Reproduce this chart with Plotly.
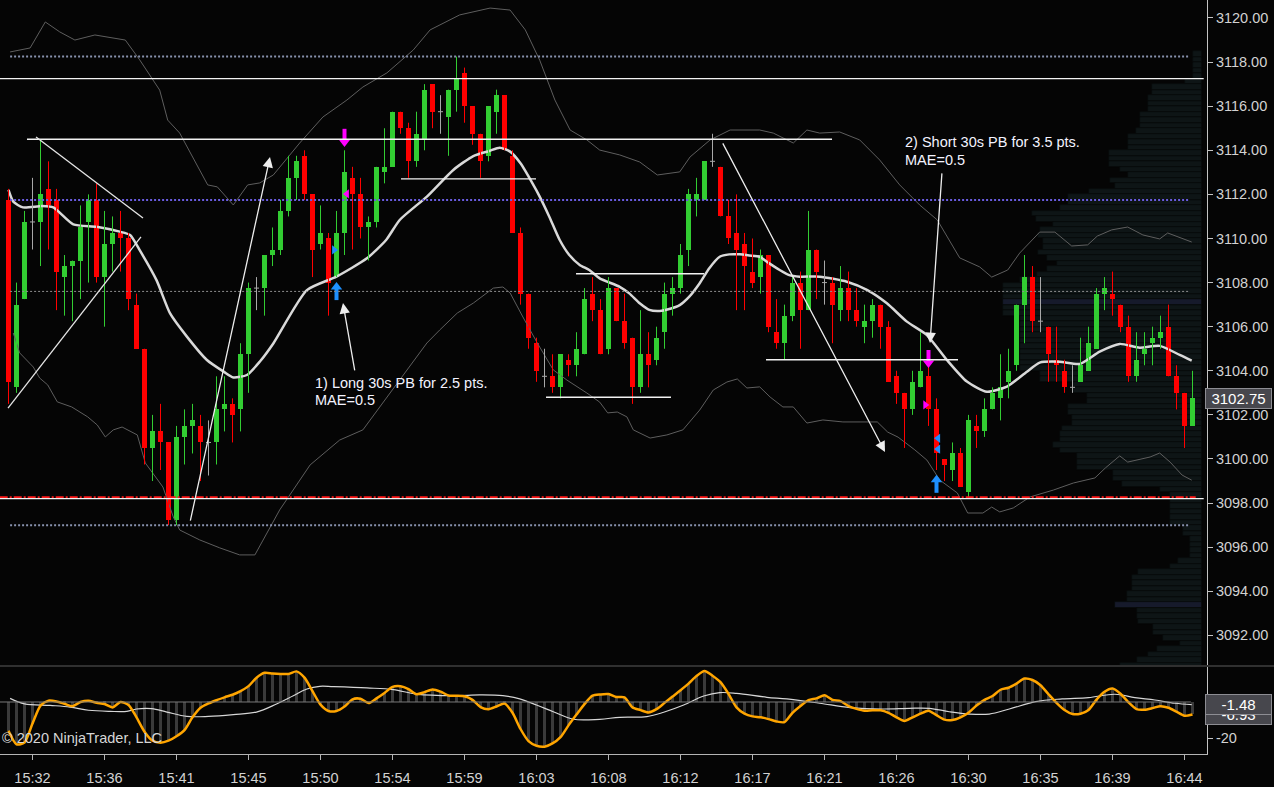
import plotly.graph_objects as go

BG = "#050505"
FONT = "Liberation Sans, Arial, sans-serif"
GREEN = "#32cd32"
RED = "#ff0000"
DOJI = "#a8a8a8"

# ---- time axis (30 second bars, one label every 9 bars) ----
time_labels = ["15:32", "15:36", "15:41", "15:45", "15:50", "15:54", "15:59", "16:03", "16:08",
               "16:12", "16:17", "16:21", "16:26", "16:30", "16:35", "16:39", "16:44"]
tick_bars = list(range(3, 148, 9))

# ---- OHLC ----
opens = [3111.75, 3103.25, 3107.25, 3110.75, 3110.75, 3112.25, 3111.75, 3108.25, 3108.75, 3109,
         3110.75, 3111.75, 3108.25, 3109.75, 3110.25, 3110, 3107, 3105, 3100.5, 3101.25,
         3100.75, 3097.25, 3101, 3101.5, 3101.5, 3100.75, 3100.75, 3102.25, 3102.5, 3102.25,
         3104.75, 3107.75, 3107.75, 3109.25, 3109.5, 3111.25, 3112.75, 3113.75, 3112, 3109.75,
         3110, 3108.25, 3110.25, 3112.75, 3112, 3110.5, 3110.75, 3113, 3113.25, 3115.75,
         3115, 3113.5, 3114.5, 3117, 3115.75, 3115.5, 3116.75, 3117.5, 3116, 3114.75,
         3113.75, 3115.75, 3116.5, 3113.75, 3110.25, 3107.5, 3105.25, 3103.75, 3103.75, 3103.25,
         3104.5, 3104.25, 3104.75, 3107.5, 3106.75, 3105, 3107.75, 3106.25, 3105.5, 3103.25,
         3104.75, 3104.5, 3105.75, 3107.5, 3107.75, 3109.5, 3111.75, 3111.75, 3113.5, 3113.25,
         3111, 3110.25, 3109.75, 3108.5, 3108.25, 3109.25, 3105.75, 3105.25, 3106.5, 3108,
         3106.75, 3109.5, 3108, 3108, 3106.75, 3107.75, 3106.75, 3106, 3106.25, 3107,
         3106, 3103.75, 3103, 3102.25, 3103.25, 3103.75, 3102.25, 3100, 3099.5, 3100.25,
         3098.5, 3101.5, 3101.25, 3102.25, 3102.75, 3103.5, 3104.25, 3107, 3108.25, 3106.25,
         3106, 3104.5, 3104, 3103.25, 3103.5, 3104, 3105, 3107.5, 3107.5, 3107,
         3106, 3103.75, 3104.75, 3105.25, 3105.5, 3106, 3103.75, 3103, 3101.5]
highs = [3112.25, 3108, 3111.25, 3112.75, 3114.5, 3113.5, 3112.25, 3109.25, 3109, 3111.5,
         3112, 3112.5, 3111.25, 3111, 3111.25, 3110.25, 3107.5, 3105, 3102, 3102.5,
         3100.75, 3101.5, 3102.25, 3102.5, 3102, 3101.75, 3103.75, 3103.75, 3102.75, 3105.25,
         3108, 3108.25, 3109.25, 3110.5, 3111.75, 3113.75, 3113.75, 3114, 3112, 3111.5,
         3110.25, 3111.25, 3114, 3113.25, 3112.75, 3111, 3113.25, 3115, 3115.75, 3115.75,
         3115.25, 3115.75, 3117, 3117, 3116.5, 3116.75, 3118.25, 3117.75, 3116, 3114.75,
         3116, 3116.75, 3116.5, 3114, 3110.5, 3107.5, 3105.5, 3105, 3104.75, 3104.75,
         3104.75, 3105.75, 3107.75, 3108.25, 3107.25, 3108.25, 3107.75, 3107.5, 3105.5, 3106.75,
         3105.75, 3106, 3108, 3108.25, 3109.75, 3112.25, 3112.75, 3113.5, 3114.75, 3113.25,
         3111.75, 3112, 3110.25, 3110, 3109.5, 3109.25, 3107.25, 3107, 3108.25, 3108.5,
         3111.25, 3109.5, 3109, 3108.25, 3108.75, 3108.5, 3107.75, 3107, 3107.25, 3107,
         3106.25, 3104, 3103, 3104, 3105.75, 3104.25, 3102.75, 3100, 3100.75, 3100.5,
         3102, 3102, 3102.75, 3103.25, 3104.75, 3105, 3107, 3109.25, 3108.75, 3108.25,
         3106, 3106, 3104.5, 3104.25, 3105.5, 3106, 3107.75, 3108.25, 3108.5, 3107,
         3106.5, 3105.75, 3105.75, 3106, 3106.5, 3107, 3104.25, 3103, 3104]
lows = [3102.5, 3103, 3107.25, 3109.5, 3108.75, 3109.5, 3106.75, 3106.5, 3106.25, 3107.25,
        3108, 3108, 3106, 3108.5, 3108.5, 3106.75, 3105, 3099.75, 3099, 3099.5,
        3097, 3097, 3099.75, 3100.25, 3099, 3099.25, 3099.75, 3101.25, 3100.75, 3101.25,
        3103, 3106.75, 3106.5, 3108.75, 3109.25, 3111, 3111.75, 3111.75, 3108.25, 3109.5,
        3106.5, 3108.25, 3109.25, 3109.5, 3110, 3109, 3110.5, 3112.5, 3113.25, 3114.75,
        3112.75, 3113.25, 3114, 3115, 3114.75, 3113.75, 3115.75, 3115.25, 3114.25, 3112.75,
        3113.5, 3114.75, 3114, 3110.25, 3107, 3105, 3103.5, 3103.25, 3103, 3102.75,
        3103.75, 3103.75, 3104.75, 3106.25, 3104.75, 3104.75, 3106.25, 3105, 3102.5, 3103,
        3103.25, 3104.25, 3105, 3106.5, 3107.5, 3108.75, 3111, 3111.75, 3113.25, 3111,
        3109.75, 3106.75, 3106.75, 3107.75, 3107.5, 3105.75, 3105, 3104.5, 3106.25, 3105,
        3106.75, 3107.25, 3107, 3105.25, 3106.25, 3106.25, 3106, 3105.25, 3105.5, 3105,
        3103.5, 3102.5, 3100.5, 3102, 3103.25, 3101.5, 3099.5, 3099, 3099, 3098.75,
        3098.25, 3100.5, 3101, 3102.25, 3101.75, 3102.75, 3104, 3105.25, 3105.75, 3105.75,
        3103.5, 3103.5, 3103, 3103, 3103.5, 3104, 3105, 3106.75, 3106.5, 3105.75,
        3103.5, 3103.5, 3104.25, 3104.25, 3105, 3103.75, 3102.25, 3100.5, 3101.5]
closes = [3103.5, 3107, 3110.75, 3110.75, 3112, 3111.5, 3108.5, 3108.75, 3109, 3110.5,
          3111.75, 3108.25, 3109.75, 3110.25, 3110, 3107.25, 3105, 3100.5, 3101.25, 3100.75,
          3097.25, 3101, 3101.5, 3101.75, 3100.75, 3100.75, 3102.25, 3102.5, 3102, 3104.75,
          3107.75, 3107.75, 3109.25, 3109.5, 3111.25, 3112.75, 3113.5, 3112, 3109.5, 3110.25,
          3108, 3110.25, 3113, 3112, 3110.5, 3110.75, 3113.25, 3113.25, 3115.75, 3115,
          3113.5, 3114.75, 3116.75, 3115.75, 3115.75, 3116.75, 3117.25, 3116, 3114.75, 3113.5,
          3116, 3116.5, 3114, 3110.25, 3107.5, 3105.5, 3104, 3103.75, 3103.25, 3104.75,
          3104.25, 3105, 3107.25, 3106.75, 3104.75, 3107.75, 3106.25, 3105.25, 3103.25, 3104.75,
          3104.25, 3105.5, 3107.5, 3107.75, 3109.25, 3112, 3112, 3113.5, 3113.5, 3111,
          3110, 3109.5, 3108.75, 3108, 3109.25, 3106, 3105.25, 3106.5, 3108, 3106.75,
          3109.5, 3108.5, 3108, 3107, 3107.75, 3106.75, 3106.25, 3106.25, 3107, 3106,
          3103.5, 3103, 3102.25, 3103.5, 3104, 3102.25, 3100.25, 3099.75, 3100.25, 3098.75,
          3101.75, 3101.25, 3102.25, 3103, 3103.25, 3104, 3107, 3108.25, 3106.25, 3106.25,
          3104.75, 3104.25, 3103.25, 3103.25, 3104.25, 3105.25, 3107.5, 3107.75, 3107.25, 3106,
          3103.75, 3104.5, 3105, 3105.5, 3105.75, 3103.75, 3103, 3101.5, 3102.75]

# ---- moving average and bands, (bar, price) ----
ma_pts = [(0, 3112.2), (0.6, 3111.67), (1.8, 3111.41), (4.2, 3111.47), (5.6, 3111.41), (8.1, 3110.64),
          (11, 3110.53), (13.9, 3110.31), (15.2, 3110.16), (16.4, 3109.47), (18.5, 3108.11), (20.2, 3106.6),
          (22.3, 3105.55), (24.8, 3104.49), (26.9, 3103.96), (28.1, 3103.7), (29.8, 3103.81), (31.4, 3104.41),
          (33.1, 3105.24), (37.3, 3107.66), (41, 3108.27), (44.8, 3109.1), (47.2, 3109.93), (48.9, 3110.84),
          (52.3, 3111.9), (55.6, 3113.11), (58.1, 3113.74), (60.1, 3113.97), (61.4, 3114.12), (62.7, 3113.94),
          (64.0, 3113.41), (65.5, 3112.5), (66.4, 3111.9), (67.6, 3110.99), (68.9, 3109.93), (70.1, 3109.25),
          (71.4, 3108.8), (72.6, 3108.57), (73.9, 3108.19), (76.4, 3107.81), (77.6, 3107.51), (78.9, 3107.06),
          (80.1, 3106.76), (81.4, 3106.71), (82.6, 3106.8), (83.9, 3106.98), (85.1, 3107.36), (86.4, 3107.97),
          (87.6, 3108.65), (88.9, 3109.17), (90.1, 3109.28), (91.4, 3109.28), (92.6, 3109.23), (93.9, 3109.17),
          (95.1, 3108.87), (96.4, 3108.57), (97.6, 3108.34), (98.9, 3108.27), (101.4, 3108.27), (104.8, 3108.04),
          (107.3, 3107.67), (109.8, 3107.06), (112.3, 3106.23), (114.8, 3105.62), (117.3, 3104.49),
          (119.8, 3103.51), (122.3, 3103.05), (124.8, 3103.28), (127.3, 3103.96), (128.9, 3104.37),
          (131.4, 3104.41), (133.9, 3104.31), (136.4, 3104.87), (138.9, 3105.22), (141.4, 3105.05),
          (143.9, 3105.13), (146.4, 3104.72), (147.9, 3104.46)]

upper_pts = [(0.2, 3118.46), (2.7, 3118.64), (4.6, 3119.82), (6.4, 3119.37), (8.3, 3119.0), (10.8, 3119.23),
             (14.6, 3119.0), (16.4, 3118.1), (18.9, 3116.73), (19.9, 3115.37), (21.4, 3114.78), (24.9, 3112.43),
             (26.1, 3112.34), (28.1, 3111.52), (29.9, 3112.43), (31.4, 3112.52), (33.1, 3112.88), (36.4, 3114.33),
             (39.3, 3115.51), (42.3, 3116.28), (44.3, 3116.87), (47.3, 3117.51), (50.6, 3118.55), (52.7, 3119.46),
             (56.4, 3120.14), (60.2, 3120.45), (62.7, 3120.36), (64.6, 3119.46), (66.4, 3118.09), (68.3, 3116.28),
             (70.2, 3114.92), (72.3, 3114.47), (73.9, 3114.01), (76.4, 3113.79), (78.9, 3113.47), (81.1, 3112.88),
             (83.9, 3113.02), (85.2, 3113.7), (87.7, 3114.47), (90.2, 3114.92), (93.9, 3114.92), (95.6, 3114.78),
             (98.1, 3114.33), (99.8, 3114.92), (101.4, 3114.78), (103.9, 3114.83), (106.4, 3114.47),
             (108.9, 3113.56), (111.4, 3112.43), (113.9, 3111.52), (116.1, 3110.84), (118.9, 3109.12),
             (121.4, 3108.71), (122.9, 3108.25), (124.9, 3108.57), (126.4, 3109.34), (128.9, 3110.29),
             (130.8, 3110.29), (132.9, 3109.66), (134.9, 3109.71), (136.1, 3110.11), (137.9, 3110.39),
             (139.9, 3110.52), (141.8, 3110.16), (143.9, 3109.98), (144.9, 3110.25), (147.9, 3109.84)]

lower_pts = [(0.6, 3105.71), (1.4, 3104.81), (3.1, 3104.17), (3.9, 3103.67), (4.9, 3103.36), (6.1, 3102.59),
             (7.9, 3102.36), (9.9, 3101.91), (11.1, 3101.54), (12.1, 3101.0), (13.1, 3101.32), (14.2, 3101.45),
             (16.1, 3101.09), (17.1, 3099.82), (19.3, 3098.73), (20.6, 3097.37), (21.4, 3096.78), (23.9, 3096.33),
             (26.4, 3095.97), (28.9, 3095.65), (30.8, 3095.65), (33.9, 3097.69), (37.7, 3099.73), (41.4, 3100.86),
             (44.3, 3101.32), (46.4, 3102.36), (49.8, 3104.04), (52.3, 3105.26), (53.9, 3105.85), (56.1, 3106.62),
             (58.1, 3107.07), (60.6, 3107.75), (61.8, 3107.8), (62.7, 3107.53), (64.3, 3106.44), (66.1, 3105.26),
             (68.1, 3104.04), (69.8, 3103.58), (72.3, 3102.99), (73.9, 3102.58), (74.9, 3102.09), (76.1, 3102.13),
             (77.3, 3101.91), (78.1, 3101.32), (80.2, 3100.95), (82.3, 3101.09), (84.3, 3101.32), (86.4, 3102.22),
             (88.1, 3103.13), (89.8, 3103.49), (91.1, 3103.63), (92.3, 3103.22), (93.9, 3103.27), (95.2, 3102.81),
             (96.8, 3102.36), (98.1, 3102.36), (99.8, 3101.63), (101.8, 3101.77), (104.3, 3101.68),
             (108.6, 3101.68), (109.9, 3101.22), (111.2, 3100.99), (113.3, 3100.41), (114.8, 3099.95),
             (116.4, 3099.05), (118.6, 3098.46), (119.9, 3097.55), (121.8, 3097.55), (122.9, 3097.82),
             (123.9, 3097.6), (125.6, 3097.78), (127.7, 3098.28), (130.6, 3098.59), (133.1, 3098.91),
             (135.8, 3099.14), (137.1, 3099.59), (138.9, 3100.14), (139.9, 3099.86), (142.7, 3100.09),
             (143.9, 3100.27), (145.2, 3099.86), (146.7, 3099.27), (147.9, 3099.04)]

# ---- oscillator: one value per bar (orange line and histogram), signal ----
osc = [-16, -23.5, -22.5, -12, -2, 0.7, 0.3, -1, -2.3, 0,
       0.7, -0.4, -1.1, -3, 0, -1.7, -8.5, -16.5, -21.5, -22.6,
       -21.5, -19, -15.6, -8.5, -3.2, -0.8, 1, 2.6, 4, 6,
       8.8, 13.5, 16.2, 15.8, 15.6, 15.6, 17, 13.5, 6, -1.5,
       -5, -5, -2.5, 1.5, 1.8, -0.6, 2, 5, 8.4, 8.8,
       7.2, 4.3, 5.5, 7, 5.8, 3.6, 3.5, 3.2, 1.2, -2.8,
       -4, -2.5, -0.8, -6, -15, -21.7, -24.3, -24.8, -23, -19.5,
       -13, -7, -1.2, 3.5, 4.2, 4.4, 2.8, 2.6, -3, -4.5,
       -5.8, -4, -0.5, 3, 6.5, 10.2, 14.4, 17.2, 14.6, 11,
       4.5, -3, -6.5, -8, -8.5, -9.5, -10.8, -11.2, -6, -2.2,
       1, 2, 3.8, 1.2, 0.5, -2.3, -3.8, -4.8, -4.6, -4.6,
       -6, -8.5, -10.5, -8.5, -6.5, -4.8, -7.3, -9.8, -10, -8.5,
       -6, -2, 1.2, 3.3, 6.8, 7.9, 10.2, 13, 12.2, 9.3,
       4.3, -0.5, -4.5, -6.7, -6.5, -4.4, 1.3, 5.7, 7.5, 4.6,
       -0.2, -4, -4.3, -3.4, -2.3, -3.2, -5.4, -7.6, -6.93]

signal_pts = [(0.2, 2), (2, -1), (5.2, -1.9), (7.7, -2.8), (10, -4.6), (12.7, -5.2), (14.8, -5.2), (16, -3.9),
              (17.9, -3.7), (19.8, -5.6), (22.3, -8), (25, -8), (28.1, -7), (31, -5.6), (33.5, -1.1), (35.6, 3.5),
              (37.3, 7.2), (38.9, 8.7), (40.6, 8.5), (44.8, 7.8), (48.1, 6.9), (51, 4.4), (55.6, 3.5), (58.9, 3.9),
              (61.8, 3.5), (63.9, 1.7), (66, -1.7), (68.1, -5.4), (70.6, -9.6), (73.9, -9.6), (76.4, -8.5),
              (79.8, -8.1), (81.9, -5.7), (84.4, -1.7), (86.9, 3.3), (88.9, 5.2), (91, 4.8), (94.8, 2.6),
              (97.3, 1.7), (101.4, -0.7), (105.2, -3.1), (109.3, -3.9), (112.6, -3.5), (115.1, -3.5),
              (117.6, -5.4), (120.1, -6.7), (122.6, -6.7), (125.1, -3.9), (128.4, 0.2), (131.7, 1.7),
              (135, 2.4), (138.3, 4.3), (140.8, 2.4), (143.3, 1.1), (145.8, -0.7), (147.9, -1.48)]

# ---- volume profile: (low, high, width) ----
profile_segments = [
    (3117.25, 3118.5, 9), (3117.0, 3117.25, 17), (3116.5, 3117.0, 50), (3115.75, 3116.5, 54),
    (3115.0, 3115.75, 62), (3114.75, 3115.0, 66), (3114.0, 3114.75, 74), (3113.25, 3114.0, 93),
    (3113.0, 3113.25, 82), (3112.75, 3113.0, 74), (3112.5, 3112.75, 92), (3112.25, 3112.5, 87),
    (3112.0, 3112.25, 113), (3111.5, 3112.0, 134), (3111.25, 3111.5, 142), (3111.0, 3111.25, 170),
    (3110.75, 3111.0, 166), (3110.5, 3110.75, 149), (3110.25, 3110.5, 162), (3110.0, 3110.25, 164),
    (3109.5, 3110.0, 159), (3109.25, 3109.5, 164), (3109.0, 3109.25, 155), (3108.75, 3109.0, 145),
    (3108.5, 3108.75, 155), (3108.25, 3108.5, 165), (3108.0, 3108.25, 182), (3106.5, 3108.0, 199),
    (3104.0, 3106.5, 182), (3103.5, 3104.0, 162), (3103.0, 3103.5, 129), (3102.5, 3103.0, 115),
    (3102.0, 3102.5, 134), (3101.5, 3102.0, 130), (3101.25, 3101.5, 140), (3100.75, 3101.25, 142),
    (3100.5, 3100.75, 149), (3100.25, 3100.5, 142), (3099.5, 3100.25, 125), (3099.0, 3099.5, 89),
    (3098.75, 3099.0, 80), (3098.5, 3098.75, 42), (3097.0, 3098.5, 32), (3096.5, 3097.0, 19),
    (3095.5, 3096.5, 12), (3095.25, 3095.5, 24), (3095.0, 3095.25, 32), (3094.75, 3095.0, 64),
    (3094.0, 3094.75, 70), (3093.5, 3094.0, 75), (3093.25, 3093.5, 87), (3092.75, 3093.25, 65),
    (3092.5, 3092.75, 64), (3092.0, 3092.5, 49), (3091.75, 3092.0, 39), (3091.5, 3091.75, 22),
    (3091.25, 3091.5, 45), (3091.0, 3091.25, 54), (3090.75, 3091.0, 65), (3090.5, 3090.75, 82)]
profile_marked = [3107.125, 3093.375]

# ---- drawing objects ----
full_lines = [3117.25, 3098.2]
red_level = 3098.27
dotted_levels = [(3118.25, "#8791ad", 2), (3111.75, "#6a5ce0", 2), (3107.6, "#8e8e8e", 1), (3097.0, "#8791ad", 2)]
short_lines = [(2.31, 102.94, 3114.5), (49.06, 65.94, 3112.7), (70.94, 86.94, 3108.4),
               (67.19, 82.81, 3102.8), (94.69, 118.69, 3104.5)]
trend_lines = [((3.44, 3114.6), (16.81, 3110.93)), ((-0.06, 3102.31), (16.56, 3110.07))]
arrow_lines = [((22.69, 3097.14), (32.69, 3113.70)), ((43.31, 3103.95), (41.81, 3107.07)),
               ((89.19, 3114.38), (109.56, 3100.32)), ((116.69, 3113.02), (115.19, 3105.26))]
notes = [(38.06, 3103.45, "1) Long 30s PB for 2.5 pts."), (38.06, 3102.67, "MAE=0.5"),
         (111.8, 3114.38, "2) Short 30s PB for 3.5 pts."), (111.8, 3113.58, "MAE=0.5")]

# ---- trade markers ----
short_arrow_bars = [42, 115]
short_arrow_prices = [3114.38, 3104.35]
long_arrow_bars = [41, 116]
long_arrow_prices = [3107.8, 3099.06]
marks_pink_left = ([42.3], [3112.02])
marks_pink_right = ([114.6], [3102.45])
marks_blue_right = ([40.7], [3109.48])
marks_blue_left = ([116.2, 116.2], [3100.94, 3100.45])

PX = 1 / 22.05  # price per pixel on the main panel
n = len(closes)
idx = list(range(n))

fig = go.Figure()

# volume profile (base x axis so it sits behind everything)
prof_y, prof_v, prof_c = [], [], []
for lo, hi, v in profile_segments:
    rows = round((hi - lo) / 0.25)
    for k in range(rows):
        c = lo + 0.125 + 0.25 * k
        prof_y.append(c)
        prof_v.append(v)
        prof_c.append("#161a2b" if any(abs(c - m) < 0.01 for m in profile_marked) else "#0e1516")
fig.add_trace(go.Bar(y=prof_y, x=prof_v, orientation="h", width=0.25, marker_color=prof_c,
                     marker_line_color="#070a0a", marker_line_width=0.8, xaxis="x", yaxis="y"))


def line_xy(pts):
    return [p[0] for p in pts], [p[1] for p in pts]


# bands and moving average
for pts in (upper_pts, lower_pts):
    bx, by = line_xy(pts)
    fig.add_trace(go.Scatter(x=bx, y=by, mode="lines", line=dict(color="#5e5e5e", width=1),
                             xaxis="x3", yaxis="y"))
mx, my = line_xy(ma_pts)
fig.add_trace(go.Scatter(x=mx, y=my, mode="lines", line=dict(color="#d9d9d9", width=2.5, shape="spline",
                                                             smoothing=0.6), xaxis="x3", yaxis="y"))

# candles
groups = {"up": [], "down": [], "doji": []}
for i in idx:
    if closes[i] > opens[i]:
        groups["up"].append(i)
    elif closes[i] < opens[i]:
        groups["down"].append(i)
    else:
        groups["doji"].append(i)

for key, color in (("up", GREEN), ("down", RED), ("doji", DOJI)):
    wx, wy = [], []
    for i in groups[key]:
        wx += [i, i, None]
        wy += [lows[i], highs[i], None]
    fig.add_trace(go.Scatter(x=wx, y=wy, mode="lines", line=dict(color=color, width=1),
                             xaxis="x3", yaxis="y"))

for key, color in (("up", GREEN), ("down", RED)):
    ids = groups[key]
    fig.add_trace(go.Bar(x=ids, y=[abs(closes[i] - opens[i]) for i in ids],
                         base=[min(opens[i], closes[i]) for i in ids], width=0.625,
                         marker_color=color, marker_line_width=0, xaxis="x3", yaxis="y"))
dx, dy = [], []
for i in groups["doji"]:
    dx += [i - 0.3125, i + 0.3125, None]
    dy += [opens[i], opens[i], None]
fig.add_trace(go.Scatter(x=dx, y=dy, mode="lines", line=dict(color=DOJI, width=1), xaxis="x3", yaxis="y"))

# trade markers
fig.add_trace(go.Scatter(x=short_arrow_bars, y=[p + 7.5 * PX for p in short_arrow_prices], mode="markers",
                         marker=dict(symbol="line-ns", size=8, line=dict(color="#ff00ff", width=4)),
                         xaxis="x3", yaxis="y"))
fig.add_trace(go.Scatter(x=short_arrow_bars, y=short_arrow_prices, mode="markers",
                         marker=dict(symbol="triangle-down", size=10, color="#ff00ff"), xaxis="x3", yaxis="y"))
fig.add_trace(go.Scatter(x=long_arrow_bars, y=[p - 7.5 * PX for p in long_arrow_prices], mode="markers",
                         marker=dict(symbol="line-ns", size=8, line=dict(color="#1e90ff", width=4)),
                         xaxis="x3", yaxis="y"))
fig.add_trace(go.Scatter(x=long_arrow_bars, y=long_arrow_prices, mode="markers",
                         marker=dict(symbol="triangle-up", size=10, color="#1e90ff"), xaxis="x3", yaxis="y"))
for (mxs, mys), sym, col in ((marks_pink_left, "triangle-left", "#ff00ff"),
                             (marks_pink_right, "triangle-right", "#ff00ff"),
                             (marks_blue_right, "triangle-right", "#1e90ff"),
                             (marks_blue_left, "triangle-left", "#1e90ff")):
    fig.add_trace(go.Scatter(x=mxs, y=mys, mode="markers", marker=dict(symbol=sym, size=8, color=col),
                             xaxis="x3", yaxis="y"))

# oscillator
fig.add_trace(go.Bar(x=idx, y=osc, width=0.4, marker_color="#3a3a3a", marker_line_width=0,
                     xaxis="x2", yaxis="y2"))
sx, sy = line_xy(signal_pts)
fig.add_trace(go.Scatter(x=sx, y=sy, mode="lines", line=dict(color="#d6d6d6", width=1.2, shape="spline"),
                         xaxis="x2", yaxis="y2"))
fig.add_trace(go.Scatter(x=idx, y=osc, mode="lines", line=dict(color="#ffa500", width=2.5, shape="spline",
                                                               smoothing=0.7), xaxis="x2", yaxis="y2"))

# ---- shapes ----
shapes = []
for lvl, col, w in dotted_levels:
    shapes.append(dict(type="line", xref="x3", yref="y", x0=0.2, x1=147.7, y0=lvl, y1=lvl,
                       line=dict(color=col, width=w, dash="2px,2px")))
for lvl in full_lines:
    shapes.append(dict(type="line", xref="x3", yref="y", x0=-1.1, x1=149.4, y0=lvl, y1=lvl,
                       line=dict(color="#f2f2f2", width=1.3)))
shapes.append(dict(type="line", xref="x3", yref="y", x0=-1.1, x1=148.4, y0=red_level, y1=red_level,
                   line=dict(color="#ff1a1a", width=1.8, dash="8px,2px,2px,2px")))
for x0, x1, lvl in short_lines:
    shapes.append(dict(type="line", xref="x3", yref="y", x0=x0, x1=x1, y0=lvl, y1=lvl,
                       line=dict(color="#f2f2f2", width=1.3)))
for (x0, y0), (x1, y1) in trend_lines:
    shapes.append(dict(type="line", xref="x3", yref="y", x0=x0, x1=x1, y0=y0, y1=y1,
                       line=dict(color="#e6e6e6", width=1.3)))
shapes.append(dict(type="line", xref="x2", yref="y2", x0=-1.1, x1=147.8, y0=0, y1=0,
                   line=dict(color="#7a7a7a", width=1)))
shapes.append(dict(type="line", xref="paper", yref="paper", x0=0, x1=1, y0=1 - 666 / 787, y1=1 - 666 / 787,
                   line=dict(color="#5c5c5c", width=1)))

# ---- annotations ----
ann = []
for (x0, y0), (x1, y1) in arrow_lines:
    ann.append(dict(xref="x3", yref="y", axref="x3", ayref="y", x=x1, y=y1, ax=x0, ay=y0, text="",
                    showarrow=True, arrowhead=2, arrowsize=1.6, arrowwidth=1.3, arrowcolor="#ededed",
                    standoff=0, startstandoff=0))
for x, y, t in notes:
    ann.append(dict(xref="x3", yref="y", x=x, y=y, text=t, showarrow=False, xanchor="left", yanchor="middle",
                    font=dict(family=FONT, size=14.5, color="#f3f3ff")))
ann.append(dict(xref="paper", yref="paper", x=0.0, y=1 - 738 / 787, text="© 2020 NinjaTrader, LLC",
                showarrow=False, xanchor="left", yanchor="middle",
                font=dict(family=FONT, size=14.5, color="#d6d6d6")))
tag = dict(xref="paper", showarrow=False, xanchor="left", yanchor="middle", align="center", width=63,
           bgcolor="#47474d", bordercolor="#8d8d93", borderwidth=1, borderpad=1,
           font=dict(family=FONT, size=15, color="#ffffff"))
ann.append(dict(tag, x=1205 / 1274, yref="y2", y=osc[-1], text="%.2f" % osc[-1]))
ann.append(dict(tag, x=1205 / 1274, yref="y2", y=signal_pts[-1][1], text="%.2f" % signal_pts[-1][1]))
ann.append(dict(tag, x=1205 / 1274, yref="y", y=closes[-1], text="%.2f" % closes[-1]))

axis_font = dict(family=FONT, size=14.5, color="#d2d2d2")
xr = [-1.0625, 149.8125]
xdom = [0, 1207 / 1274]

fig.update_layout(
    width=1274, height=787, margin=dict(l=0, r=0, t=0, b=0),
    paper_bgcolor=BG, plot_bgcolor=BG, showlegend=False, barmode="overlay", bargap=0,
    shapes=shapes, annotations=ann,
    xaxis=dict(domain=xdom, range=[1202, -5], visible=False, anchor="y", fixedrange=True),
    xaxis3=dict(overlaying="x", range=xr, visible=False, anchor="y", fixedrange=True),
    xaxis2=dict(domain=xdom, range=xr, anchor="y2", showgrid=False, zeroline=False,
                showline=True, linecolor="#b4b4b4", linewidth=1,
                ticks="outside", ticklen=5, tickcolor="#b4b4b4",
                tickvals=tick_bars, ticktext=time_labels, tickfont=axis_font, ticklabelstandoff=6),
    yaxis=dict(domain=[1 - 665 / 787, 1], range=[3090.657, 3120.816], side="right", anchor="x",
               showgrid=False, zeroline=False, showline=True, linecolor="#c4c4c4", linewidth=1,
               ticks="outside", ticklen=5, tickcolor="#c4c4c4", tick0=3092, dtick=2,
               tickformat=".2f", tickfont=axis_font),
    yaxis2=dict(domain=[1 - 754 / 787, 1 - 667 / 787], range=[-28.89, 19.44], side="right", anchor="x2",
                showgrid=False, zeroline=False, showline=True, linecolor="#c4c4c4", linewidth=1,
                ticks="outside", ticklen=5, tickcolor="#c4c4c4", tickvals=[-20], ticktext=["-20"],
                tickfont=axis_font),
)

fig.write_html("out.html", config={"displayModeBar": False},
               post_script="document.body.style.margin='0';document.body.style.background='#050505';")
